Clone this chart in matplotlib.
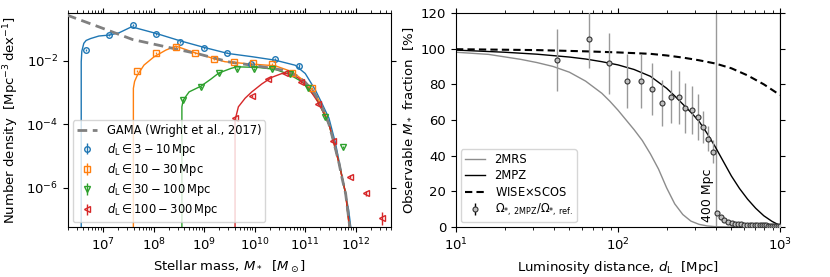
import numpy as np
import matplotlib
matplotlib.use("Agg")
import matplotlib.pyplot as plt

# ---------------- Left panel data (log10 values) ----------------
gama_logM = [6.28, 6.91, 7.58, 8.24, 8.90, 9.50, 10.07, 10.54, 10.70, 10.87, 11.00, 11.14,
             11.27, 11.40, 11.47, 11.53, 11.60, 11.67, 11.73, 11.80, 11.88, 11.92]
gama_logn = [-0.56, -0.93, -1.33, -1.56, -1.79, -2.04, -2.17, -2.29, -2.38, -2.50, -2.68, -2.92,
             -3.25, -3.70, -4.00, -4.35, -4.78, -5.23, -5.70, -6.18, -7.20, -7.60]

blue_logM = [6.65, 7.12, 7.59, 8.05, 8.52, 8.99, 9.46, 9.93, 10.40, 10.87]
blue_logn = [-1.67, -1.19, -0.88, -1.16, -1.40, -1.61, -1.74, -2.10, -1.95, -2.16]
blue_err = [0.03, 0.03, 0.03, 0.03, 0.03, 0.03, 0.03, 0.04, 0.04, 0.06]

orange_logM = [7.66, 8.04, 8.44, 8.82, 9.20, 9.59, 9.96, 10.35, 10.74, 11.14]
orange_logn = [-2.32, -1.75, -1.56, -1.75, -1.94, -2.05, -2.06, -2.11, -2.40, -2.87]
orange_err = [0.03] * 10

green_logM = [8.58, 8.93, 9.29, 9.64, 9.99, 10.34, 10.70, 11.06, 11.40, 11.74]
green_logn = [-3.24, -2.83, -2.39, -2.27, -2.27, -2.27, -2.42, -2.85, -3.78, -4.73]
green_err = [0.03] * 10

red_logM = [9.61, 9.94, 10.26, 10.59, 10.92, 11.25, 11.55, 11.88, 12.20, 12.53]
red_logn = [-3.80, -3.11, -2.58, -2.37, -2.66, -3.36, -4.53, -5.65, -6.18, -6.96]
red_err = [0.04, 0.03, 0.03, 0.03, 0.03, 0.03, 0.04, 0.05, 0.08, 0.21]

blue_line_logM = [6.563, 6.563, 6.575, 6.614, 6.66, 6.748, 6.913, 7.12, 7.31, 7.56, 8.05, 8.52,
                  9.00, 9.47, 9.94, 10.40, 10.80, 11.00, 11.20, 11.33, 11.47, 11.60, 11.73, 11.86, 11.93]
blue_line_logn = [-7.6, -2.03, -1.70, -1.45, -1.36, -1.30, -1.22, -1.19, -1.12, -0.93, -1.14, -1.37,
                  -1.58, -1.77, -1.87, -1.98, -2.14, -2.40, -2.92, -3.34, -3.81, -4.60, -5.65, -6.70, -7.6]

orange_line_logM = [7.596, 7.596, 7.62, 7.676, 7.807, 8.006, 8.24, 8.437, 8.815, 9.20, 9.41, 9.94,
                    10.405, 10.74, 11.00, 11.20, 11.366, 11.47, 11.53, 11.67, 11.80, 11.90]
orange_line_logn = [-7.6, -2.87, -2.65, -2.45, -2.135, -1.874, -1.663, -1.537, -1.748, -1.937, -2.03, -2.104,
                    -2.157, -2.346, -2.66, -3.03, -3.55, -4.00, -4.35, -5.23, -6.18, -7.6]

green_line_logM = [8.557, 8.557, 8.583, 8.70, 8.934, 9.133, 9.286, 9.53, 9.644, 10.074, 10.405, 10.67,
                   10.936, 11.20, 11.40, 11.47, 11.53, 11.67, 11.80, 11.90]
green_line_logn = [-7.6, -3.45, -3.24, -2.98, -2.80, -2.576, -2.387, -2.24, -2.19, -2.21, -2.27, -2.42,
                   -2.66, -3.13, -3.76, -4.00, -4.35, -5.23, -6.18, -7.6]

red_line_logM = [9.61, 9.61, 9.676, 9.809, 9.942, 10.14, 10.34, 10.54, 10.70, 10.87, 11.07, 11.27,
                 11.40, 11.47, 11.53, 11.67, 11.80, 11.90]
red_line_logn = [-7.6, -3.87, -3.45, -3.18, -2.98, -2.73, -2.52, -2.40, -2.40, -2.55, -2.87, -3.34,
                 -3.76, -4.00, -4.35, -5.23, -6.18, -7.6]

series_labels = [r'$d_\mathrm{L} \in 3-10\,\mathrm{Mpc}$',
                 r'$d_\mathrm{L} \in 10-30\,\mathrm{Mpc}$',
                 r'$d_\mathrm{L} \in 30-100\,\mathrm{Mpc}$',
                 r'$d_\mathrm{L} \in 100-300\,\mathrm{Mpc}$']

# ---------------- Right panel data ----------------
mrs_logd = [1.0, 1.2, 1.4, 1.5, 1.6, 1.7, 1.8, 1.9, 1.95, 2.0, 2.05, 2.1, 2.15, 2.2, 2.25,
            2.3, 2.35, 2.4, 2.45, 2.5, 2.55, 2.6, 2.7, 3.0]
mrs_frac = [98.0, 96.8, 94.0, 92.2, 90.0, 86.8, 81.8, 75.0, 70.5, 65.5, 60.0, 54.5, 48.5, 41.0, 32.5,
            22.0, 13.0, 7.0, 3.3, 1.5, 0.6, 0.2, 0.0, 0.0]

mpz_logd = [1.0, 1.3, 1.5, 1.7, 1.8, 1.9, 2.0, 2.1, 2.2, 2.3, 2.35, 2.4, 2.45, 2.5, 2.55,
            2.6, 2.65, 2.7, 2.75, 2.8, 2.85, 2.9, 2.95, 3.0]
mpz_frac = [99.2, 98.0, 96.9, 95.3, 94.2, 92.7, 90.9, 88.3, 84.5, 77.8, 73.5, 68.9, 64.3, 59.3, 52.5,
            45.0, 36.8, 28.6, 21.6, 15.6, 10.5, 6.3, 3.2, 0.8]

wise_logd = [1.0, 1.5, 1.8, 2.0, 2.2, 2.3, 2.4, 2.5, 2.6, 2.7, 2.8, 2.9, 2.95, 3.0]
wise_frac = [99.7, 99.2, 98.5, 97.9, 97.1, 96.2, 95.0, 93.5, 91.7, 89.0, 85.0, 80.0, 77.0, 74.0]

pts_d = [42, 66, 88, 114, 138, 163, 187, 212, 237, 261, 287, 312, 335, 359, 384, 406, 430, 453, 480,
         505, 529, 554, 578, 603, 627, 652, 676, 701, 725, 750, 774, 799, 823, 848, 872, 897, 921, 946, 970, 995]
pts_frac = [93.7, 105.2, 91.8, 82.0, 82.0, 77.6, 69.4, 73.1, 72.7, 66.9, 65.4, 61.7, 55.9, 49.5, 42.3,
            7.7, 5.4, 3.9, 2.6, 2.0, 1.8, 1.6, 1.5, 1.4, 1.3, 1.3, 1.2, 1.1, 1.1, 1.0, 1.0, 0.9, 0.9,
            0.8, 0.8, 0.7, 0.7, 0.6, 0.6, 0.5]
pts_err = [17.5, 16.0, 17.0, 15.0, 15.0, 14.6, 13.0, 14.8, 15.0, 14.0, 13.5, 12.7, 9.0, 7.0, 6.5,
           1.0, 0.8, 0.6, 0.5] + [0.3] * 21

ref_lines = [400, 1000]

# ---------------- Figure ----------------
plt.rcParams['font.family'] = ['DejaVu Sans']
fig = plt.figure(figsize=(8.30, 2.77), dpi=100)
axL = fig.add_axes([68 / 830, 50 / 277, 323 / 830, 214 / 277])
axR = fig.add_axes([456 / 830, 50 / 277, 324 / 830, 214 / 277])

colors = ['#1f77b4', '#ff7f0e', '#2ca02c', '#d62728']
markers = ['o', 's', 'v', '<']
pts = [(blue_logM, blue_logn, blue_err), (orange_logM, orange_logn, orange_err),
       (green_logM, green_logn, green_err), (red_logM, red_logn, red_err)]
lines = [(blue_line_logM, blue_line_logn), (orange_line_logM, orange_line_logn),
         (green_line_logM, green_line_logn), (red_line_logM, red_line_logn)]

for (lm, ln), c in zip(lines, colors):
    axL.plot(10 ** np.array(lm), 10 ** np.array(ln), color=c, lw=1.0, zorder=2)

hg, = axL.plot(10 ** np.array(gama_logM), 10 ** np.array(gama_logn), ls='--', color='gray',
               lw=2.0, dashes=(3.5, 2.0), zorder=3, label='GAMA (Wright et al., 2017)')

for (m, n, e), c, mk, lab in zip(pts, colors, markers, series_labels):
    m = 10 ** np.array(m)
    n = 10 ** np.array(n)
    e = np.array(e)
    yerr = [n - n * 10 ** (-e), n * 10 ** e - n]
    axL.errorbar(m, n, yerr=yerr, fmt=mk, color=c, mfc='none', mec=c, ms=4, mew=1.0,
                 elinewidth=1.0, capsize=0, zorder=4, label=lab)

axL.set_xscale('log')
axL.set_yscale('log')
axL.set_xlim(2e6, 5e12)
axL.set_ylim(5.8e-8, 0.32)
axL.set_yticks([1e-6, 1e-4, 1e-2])
axL.yaxis.set_minor_locator(matplotlib.ticker.NullLocator())
axL.set_xticks([1e7, 1e8, 1e9, 1e10, 1e11, 1e12])
axL.set_xlabel(r'Stellar mass, $M_*$  [$M_\odot$]', fontsize=9.5)
axL.set_ylabel(r'Number density  [Mpc$^{-3}\,$dex$^{-1}$]', fontsize=9.5)
axL.legend(loc='lower left', fontsize=8.3, bbox_to_anchor=(0.0, 0.0), borderaxespad=0.4,
           handlelength=1.8, labelspacing=0.28, borderpad=0.35)

# right panel
axR.plot(10 ** np.array(mrs_logd), mrs_frac, color='0.55', lw=1.0, label='2MRS')
axR.plot(10 ** np.array(mpz_logd), mpz_frac, color='k', lw=1.0, label='2MPZ')
axR.plot(10 ** np.array(wise_logd), wise_frac, color='k', lw=1.5, ls='--', dashes=(3.5, 2.0),
         label=r'WISE$\times$SCOS')
for xv in ref_lines:
    axR.axvline(xv, color='0.6', lw=1.0, zorder=1)
eb = axR.errorbar(pts_d, pts_frac, yerr=pts_err, fmt='o', color='k', mfc='0.75', mec='0.2',
                  ms=3.6, mew=0.8, ecolor='k', elinewidth=1.0, capsize=0, zorder=4,
                  label=r'$\Omega_{*,\,\mathrm{2MPZ}}/\Omega_{*,\,\mathrm{ref.}}$')
leg = axR.legend(loc='lower left', fontsize=8.3, borderaxespad=0.4, handlelength=1.8,
                 labelspacing=0.28, borderpad=0.35)
for bl in eb[2]:
    bl.set_color('0.6')
axR.text(392, 3, '400 Mpc', rotation=90, ha='right', va='bottom', fontsize=9)

axR.set_xscale('log')
axR.set_xlim(10, 1000)
axR.set_ylim(0, 120)
axR.set_yticks([0, 20, 40, 60, 80, 100, 120])
axR.set_xlabel(r'Luminosity distance, $d_\mathrm{L}$  [Mpc]', fontsize=9.5)
axR.set_ylabel(r'Observable $M_*$ fraction  [%]', fontsize=9.5)

for ax in (axL, axR):
    ax.tick_params(which='both', direction='out', top=True, right=True, labelsize=9.5)
    ax.tick_params(which='major', length=3.5)
    ax.tick_params(which='minor', length=2)

fig.savefig('out.png', dpi=100)
